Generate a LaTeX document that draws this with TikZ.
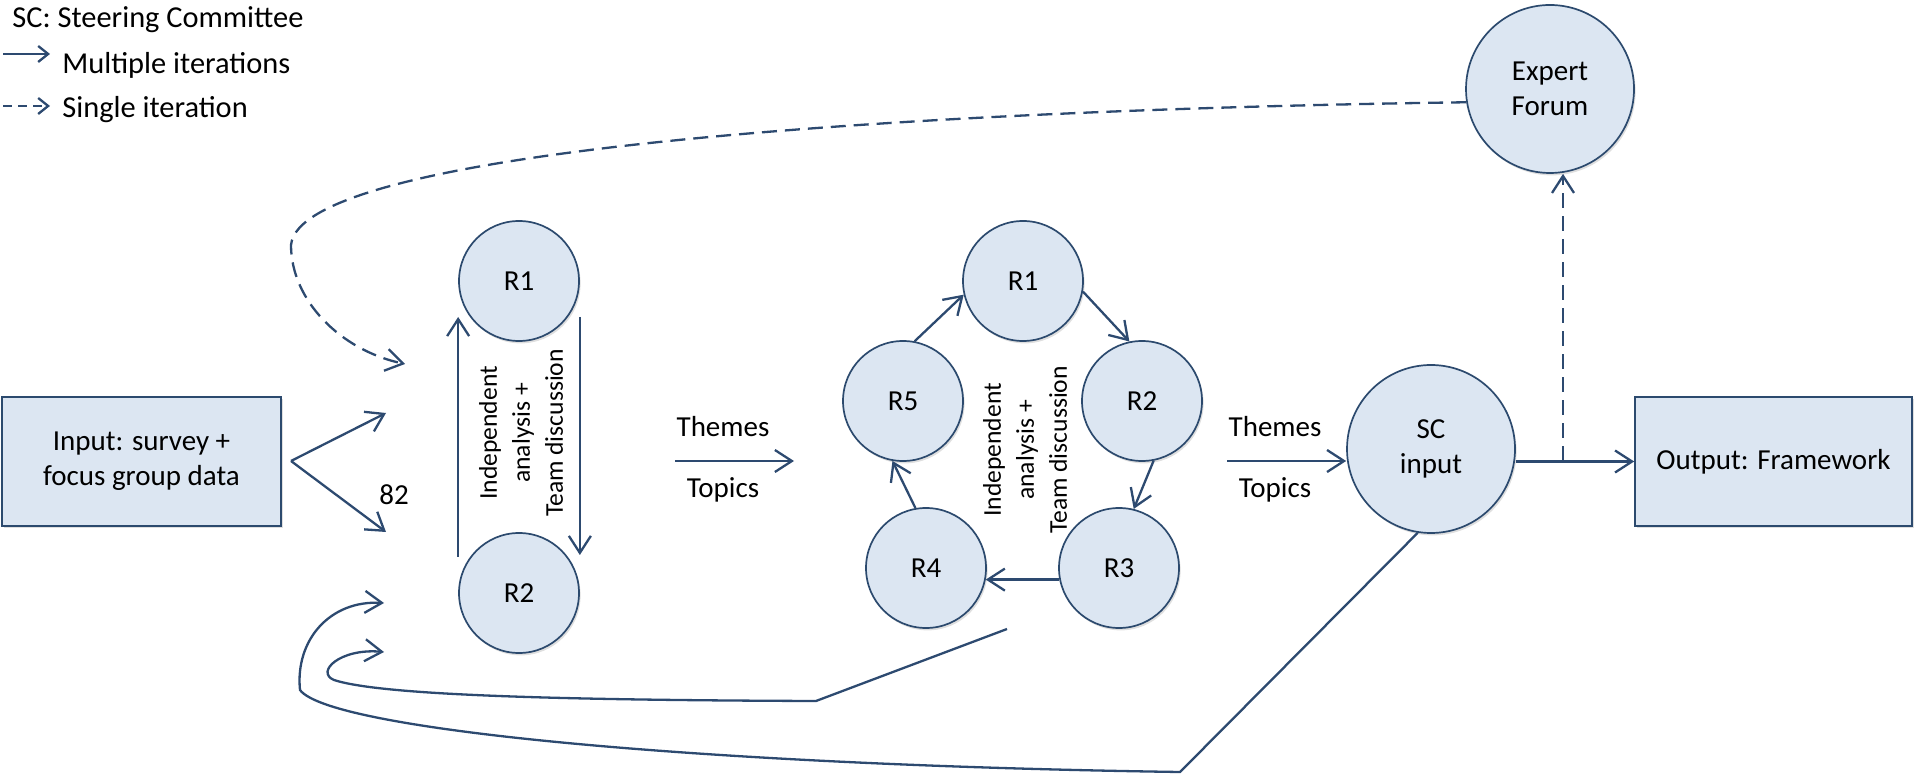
\documentclass[tikz,border=0pt]{standalone}
\usepackage{fontspec}
\setmainfont{Carlito}
\usetikzlibrary{arrows.meta,shadows}
\definecolor{edgeblue}{HTML}{2C4A6E}
\definecolor{lineblue}{HTML}{2D4A70}
\definecolor{fillblue}{HTML}{DCE6F2}

\begin{document}
\begin{tikzpicture}[x=0.5pt,y=-0.5pt,
    font=\fontsize{14.5}{17.5}\selectfont,
    shapend/.style={draw=edgeblue,fill=fillblue,line width=0.85pt,
      drop shadow={opacity=0.25,shadow xshift=0.8pt,shadow yshift=-1.2pt}},
    rnd/.style={shapend,circle,minimum size=60pt,inner sep=0pt,align=center},
    bignd/.style={shapend,circle,minimum size=84pt,inner sep=0pt,align=center},
    boxnd/.style={shapend,rectangle,minimum height=64.5pt,align=center},
    arr/.style={draw=lineblue,line width=1.15pt,
      -{Straight Barb[length=8.5pt,width=11pt]}},
    dasharr/.style={arr,dash pattern=on 7.5pt off 4pt},
    rottext/.style={rotate=90,align=center,font=\fontsize{12.8}{16.5}\selectfont},
    legtext/.style={anchor=base west,inner sep=0pt,font=\fontsize{15.2}{18}\selectfont}]
  \useasboundingbox (0,0) rectangle (1914,779);

  \node[legtext] (legsc) at (12,28) {SC: Steering Committee};
  \node[legtext] (legmulti) at (62,74) {Multiple iterations};
  \node[legtext] (legsingle) at (62,118) {Single iteration};
  \coordinate (ms) at (3,54);
  \coordinate (me) at (50,54);
  \coordinate (ss) at (3,106);
  \coordinate (se) at (50,106);
  \draw[arr,-{Straight Barb[length=5pt,width=8pt]}] (ms) -- (me);
  \draw[arr,dash pattern=on 4.5pt off 3pt,-{Straight Barb[length=5pt,width=8pt]}] (ss) -- (se);

  \node[boxnd,minimum width=139.5pt] (inbox) at (141.5,461.5) {Input: survey +\\focus group data};
  \node[boxnd,minimum width=138.5pt] (outbox) at (1773.5,461.5) {Output: Framework};

  \node[rnd] (lr1) at (519,281) {R1};
  \node[rnd] (lr2) at (519,593) {R2};
  \node[rottext] (ltext) at (521,433) {Independent\\analysis +\\Team discussion};

  \node[rnd] (pr1) at (1023,281) {R1};
  \node[rnd] (pr2) at (1142,401) {R2};
  \node[rnd] (pr3) at (1119,568) {R3};
  \node[rnd] (pr4) at (926,568) {R4};
  \node[rnd] (pr5) at (903,401) {R5};
  \node[rottext] (ptext) at (1025,450) {Independent\\analysis +\\Team discussion};

  \node[bignd] (sc) at (1431,449) {SC\\input};
  \node[bignd] (expert) at (1550,89) {Expert\\Forum};

  \coordinate (fork) at (291,461);
  \coordinate (up) at (386,413);
  \coordinate (down) at (386,532);
  \draw[arr] (fork) -- (up);
  \draw[arr] (fork) -- (down);
  \node (count) at (394,495) {82};

  \draw[arr] ([yshift=18pt]lr2.west) -- ([yshift=-18pt]lr1.west);
  \draw[arr] ([yshift=-18pt]lr1.east) -- ([yshift=19pt]lr2.east);

  \coordinate (th1s) at (675,461);
  \coordinate (th1e) at (794,461);
  \draw[arr] (th1s) -- (th1e);
  \node (themes1) at (723,427) {Themes};
  \node (topics1) at (723,490) {Topics};

  \draw[arr] (pr1.-10) -- (pr2.102);
  \draw[arr] (pr2.-79) -- (pr3.76);
  \draw[arr] (pr3.191) -- (pr4.-11);
  \draw[arr] (pr4.100) -- (pr5.-100);
  \draw[arr] (pr5.79) -- (pr1.193);

  \coordinate (th2s) at (1227,461);
  \draw[arr] (th2s) -- (th2s -| sc.west);
  \node (themes2) at (1275,427) {Themes};
  \node (topics2) at (1275,490) {Topics};

  \coordinate (junc) at (1563,461);
  \draw[arr] (sc.east |- outbox.west) -- (outbox.west);
  \draw[dasharr] (junc) -- (junc |- expert.south);

  \coordinate (fbtip) at (405,364);
  \draw[dasharr] (expert.189) .. controls (900,110) and (300,150) .. (291,245)
    .. controls (291,300) and (340,350) .. (fbtip);

  \coordinate (innerstart) at (1007,629);
  \coordinate (innercorner) at (816,701);
  \coordinate (innertip) at (384,652);
  \draw[arr] (innerstart) -- (innercorner) .. controls (550,700) and (380,695) .. (334,680)
    .. controls (315,672) and (340,648) .. (innertip);

  \coordinate (outercorner) at (1180,772);
  \coordinate (outertip) at (384,603);
  \draw[arr] (sc.-99) -- (outercorner) .. controls (700,765) and (330,730) .. (300,690)
    .. controls (295,640) and (330,600) .. (outertip);
\end{tikzpicture}
\end{document}
